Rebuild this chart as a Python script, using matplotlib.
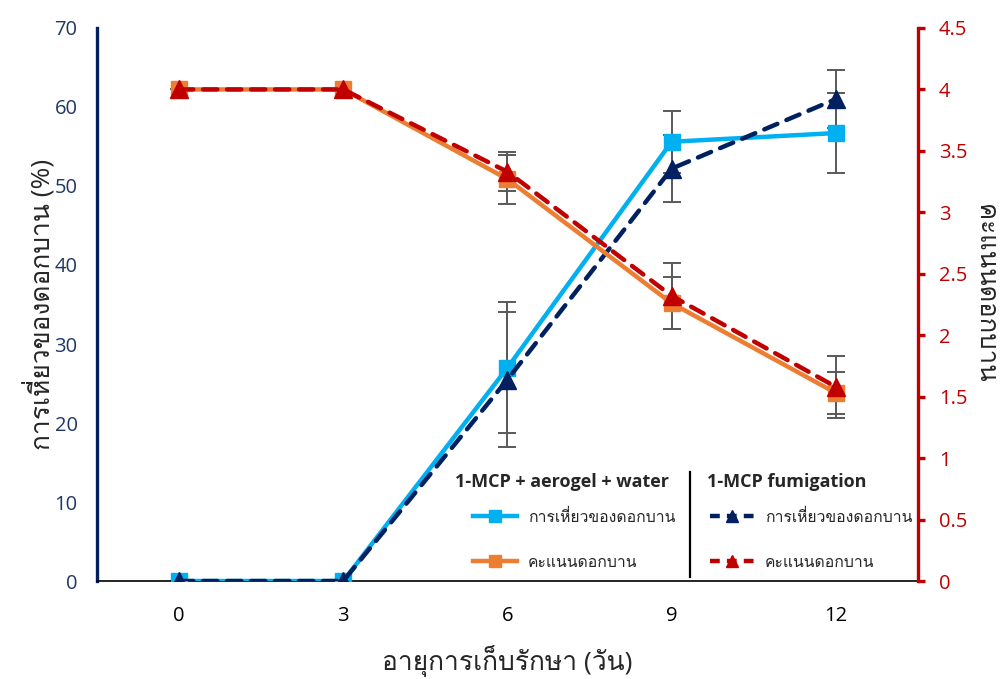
import matplotlib
matplotlib.use("Agg")
import matplotlib.pyplot as plt
from matplotlib import font_manager
from matplotlib.ft2font import FT2Font
from matplotlib.lines import Line2D

# ---------------- data ----------------
days = [0, 3, 6, 9, 12]
wilt_aerogel = [0, 0, 27.0, 55.6, 56.7]
wilt_aerogel_err = [0, 0, 8.3, 3.9, 5.1]
wilt_fum = [0, 0, 25.5, 52.2, 61.0]
wilt_fum_err = [0, 0, 8.6, 4.2, 3.7]
score_aerogel = [4.0, 4.0, 3.27, 2.26, 1.53]
score_aerogel_err = [0, 0, 0.20, 0.21, 0.17]
score_fum = [4.0, 4.0, 3.33, 2.32, 1.58]
score_fum_err = [0, 0, 0.16, 0.27, 0.25]

left_ticks = [0, 10, 20, 30, 40, 50, 60, 70]
right_ticks = [0, 0.5, 1, 1.5, 2, 2.5, 3, 3.5, 4, 4.5]
right_tick_labels = ["0", "0.5", "1", "1.5", "2", "2.5", "3", "3.5", "4", "4.5"]

ylabel_left = "การเหี่ยวของดอกบาน (%)"
ylabel_right = "คะแนนดอกบาน"
xlabel = "อายุการเก็บรักษา (วัน)"
group1 = "1-MCP + aerogel + water"
group2 = "1-MCP fumigation"
lab_wilt = "การเหี่ยวของดอกบาน"
lab_score = "คะแนนดอกบาน"

# ---------------- fonts ----------------
thai_family = None
for f in font_manager.fontManager.ttflist:
    try:
        cm = FT2Font(f.fname).get_charmap()
        if ord("ก") in cm and ord("เ") in cm:
            thai_family = f.name
            break
    except Exception:
        pass
families = ["Open Sans"]
if thai_family:
    families.append(thai_family)
families.append("DejaVu Sans")
plt.rcParams["font.family"] = families

# ---------------- colours ----------------
c_blue = "#00B0F0"
c_orange = "#ED7D31"
c_navy = "#002060"
c_red = "#C00000"
c_left = "#1F3864"
c_err = "#595959"
c_text = "#262626"

fig = plt.figure(figsize=(10.08, 6.79), dpi=100)
ax = fig.add_axes([0.0962, 0.1443, 0.8145, 0.8145])
ax2 = ax.twinx()

lw = 3.2
ekw = dict(fmt="none", ecolor=c_err, elinewidth=1.4, capsize=6.5, capthick=1.4)

ax.errorbar(days, wilt_aerogel, yerr=wilt_aerogel_err, zorder=2, **ekw)
ax.errorbar(days, wilt_fum, yerr=wilt_fum_err, zorder=2, **ekw)
ax.plot(days, wilt_aerogel, color=c_blue, lw=lw, marker="s", ms=12,
        zorder=3)
ax.plot(days, wilt_fum, color=c_navy, lw=lw, marker="^", ms=13,
        dashes=(3.2, 2.2), dash_capstyle="round", zorder=4)

ax2.errorbar(days, score_aerogel, yerr=score_aerogel_err, zorder=2, **ekw)
ax2.errorbar(days, score_fum, yerr=score_fum_err, zorder=2, **ekw)
ax2.plot(days, score_aerogel, color=c_orange, lw=lw, marker="s", ms=12,
         zorder=3)
ax2.plot(days, score_fum, color=c_red, lw=lw, marker="^", ms=13,
         dashes=(3.2, 2.2), dash_capstyle="round", zorder=4)

# ---------------- axes ----------------
ax.set_xlim(-1.5, 13.5)
ax.set_ylim(0, 70)
ax2.set_ylim(0, 4.5)
ax.set_xticks(days)
ax.set_xticklabels([str(d) for d in days])
ax.set_yticks(left_ticks)
ax2.set_yticks(right_ticks)
ax2.set_yticklabels(right_tick_labels)

for a in (ax, ax2):
    a.spines["top"].set_visible(False)
    a.patch.set_visible(False)
ax.spines["right"].set_visible(False)
ax2.spines["left"].set_visible(False)
ax2.spines["bottom"].set_visible(False)
ax.spines["left"].set_color(c_navy)
ax.spines["left"].set_linewidth(2.4)
ax.spines["bottom"].set_color("black")
ax.spines["bottom"].set_linewidth(1.2)
ax2.spines["right"].set_color(c_red)
ax2.spines["right"].set_linewidth(2.4)

ax.tick_params(axis="x", length=0, pad=18, labelsize=14.5, labelcolor="black")
ax.tick_params(axis="y", length=0, pad=14, labelsize=14.5, labelcolor=c_left)
ax2.tick_params(axis="y", length=5, width=2.4, color=c_red, pad=10,
                labelsize=14.5, labelcolor=c_red, direction="out")

ax.set_xlabel(xlabel, fontsize=19, color=c_text)
ax.xaxis.set_label_coords(0.5, -0.115)
ax.set_ylabel(ylabel_left, fontsize=19, color=c_text)
ax.yaxis.set_label_coords(-0.051, 0.5)
ax2.set_ylabel(ylabel_right, fontsize=18.5, rotation=270, va="bottom",
               color=c_text)
ax2.yaxis.set_label_coords(1.066, 0.52)

# ---------------- legend ----------------
h_blue = Line2D([], [], color=c_blue, lw=lw, marker="s", ms=8)
h_orange = Line2D([], [], color=c_orange, lw=lw, marker="s", ms=8)
h_navy = Line2D([], [], color=c_navy, lw=lw, marker="^", ms=9,
                dashes=(2.2, 1.6))
h_red = Line2D([], [], color=c_red, lw=lw, marker="^", ms=9,
               dashes=(2.2, 1.6))

lkw = dict(loc="center left", frameon=False, fontsize=11.3, borderpad=0,
           borderaxespad=0, handlelength=2.8, handletextpad=0.7,
           labelspacing=1.85, numpoints=1)
leg1 = ax2.legend([h_blue, h_orange], [lab_wilt, lab_score],
                  bbox_to_anchor=(0.458, 0.074), **lkw)
ax2.add_artist(leg1)
leg2 = ax2.legend([h_navy, h_red], [lab_wilt, lab_score],
                  bbox_to_anchor=(0.747, 0.074), **lkw)
for lg in (leg1, leg2):
    for t in lg.get_texts():
        t.set_color(c_text)

ax2.text(0.436, 0.179, group1, transform=ax2.transAxes, fontsize=13,
         fontweight="bold", va="center", ha="left", color=c_text)
ax2.text(0.743, 0.179, group2, transform=ax2.transAxes, fontsize=13,
         fontweight="bold", va="center", ha="left", color=c_text)
ax2.add_line(Line2D([0.722, 0.722], [0.007, 0.197], transform=ax2.transAxes,
                    color="black", lw=1.6))

fig.savefig("out.png", dpi=100)
